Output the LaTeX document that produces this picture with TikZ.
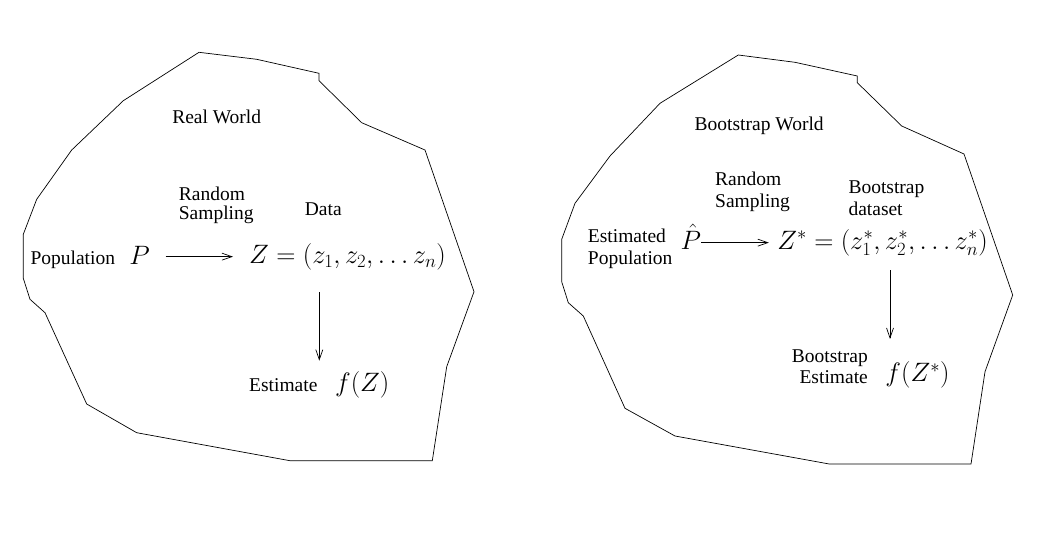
\RequirePackage{fix-cm}
\documentclass[tikz,border=0pt]{standalone}
\usepackage{fontspec}
\setmainfont{Liberation Serif}
\usetikzlibrary{arrows.meta}
\tikzset{
  txt/.style={inner sep=0pt, font=\fontsize{19.5}{19}\selectfont},
  mth/.style={inner sep=0pt, font=\fontsize{26.6}{30}\selectfont},
  world/.style={draw, line width=0.7pt, line join=miter},
  arr/.style={line width=0.7pt, -{Straight Barb[length=10pt,width=7pt,line width=0.7pt]}}
}
\begin{document}
\begin{tikzpicture}[x=1pt,y=-1pt]
\useasboundingbox (0,0) rectangle (1064,538);
% left world
\draw[world] (199,52.3) -- (256.7,59.3) -- (319,73.3) -- (319,80.7) -- (361.7,122.7)
  -- (425,150) -- (474,291.7) -- (446.7,366.7) -- (432.3,460.7) -- (290,460.7)
  -- (136.7,432.7) -- (86.7,404) -- (45,312.7) -- (30,299.3) -- (23.3,278.3)
  -- (23.3,234.3) -- (36.7,199.3) -- (71.7,150) -- (123.3,100.7) -- cycle;
% right world
\draw[world] (738.3,55) -- (795,62.3) -- (857.3,76) -- (857.3,82.7) -- (901.7,126)
  -- (964,154) -- (1012.7,295) -- (985,371.7) -- (971,464) -- (829.3,464)
  -- (675,436) -- (625,408.3) -- (583.3,316) -- (568.3,302.7) -- (561.7,281.7)
  -- (561.7,239.3) -- (575,203.3) -- (610,156) -- (660,103.3) -- cycle;

% left labels
\node[txt, anchor=base] (rw) at (216.7,123.3) {Real World};
\node[txt, align=left, anchor=base west] (rs) at (178.7,219) {Random\\Sampling};
\node[txt, anchor=base] (data) at (323.3,215) {Data};
\node[txt, anchor=base] (pop) at (72.8,264) {Population};
\node[mth, anchor=base] (P) at (139.6,264) {$P$};
\node[mth, anchor=base] (Z) at (347.5,263.3) {$Z=(z_1,z_2,\ldots z_n)$};
\node[txt, anchor=base] (est) at (283.3,391) {Estimate};
\node[mth, anchor=base] (fZ) at (362.2,391.7) {$f(Z)$};
\draw[arr, shorten <=15.7pt, shorten >=16pt] (P.east |- Z.west) -- (Z.west);
\draw[arr, shorten <=22pt, shorten >=10.9pt] ([xshift=-28.2pt]Z.south) -- ([xshift=-42.9pt]fZ.north);

% right labels
\node[txt, anchor=base] (bw) at (759.2,130) {Bootstrap World};
\node[txt, align=left, anchor=base west, font=\fontsize{19.5}{22}\selectfont] (rs2) at (715,207.7) {Random\\Sampling};
\node[txt, align=left, anchor=base west, font=\fontsize{19.5}{21.7}\selectfont] (bd) at (848.3,215) {Bootstrap\\dataset};
\node[txt, align=left, anchor=base west, font=\fontsize{19.5}{21.3}\selectfont] (ep) at (587.7,264) {Estimated\\Population};
\node[mth, anchor=base] (Ph) at (690.8,249.3) {$\hat{P}$};
\node[mth, anchor=base] (Zs) at (882.5,249.3) {$Z^*=(z_1^*,z_2^*,\ldots z_n^*)$};
\node[txt, align=right, anchor=base east, font=\fontsize{19.5}{20.7}\selectfont] (be) at (868,383.3) {Bootstrap\\Estimate};
\node[mth, anchor=base] (fZs) at (917.5,381.7) {$f(Z^*)$};
\draw[arr, shorten >=8.3pt] (Ph.east |- Zs.west) -- (Zs.west);
\draw[arr, shorten <=14.3pt, shorten >=22.6pt] ([xshift=7.5pt]Zs.south) -- ([xshift=-27.5pt]fZs.north);
\end{tikzpicture}
\end{document}
